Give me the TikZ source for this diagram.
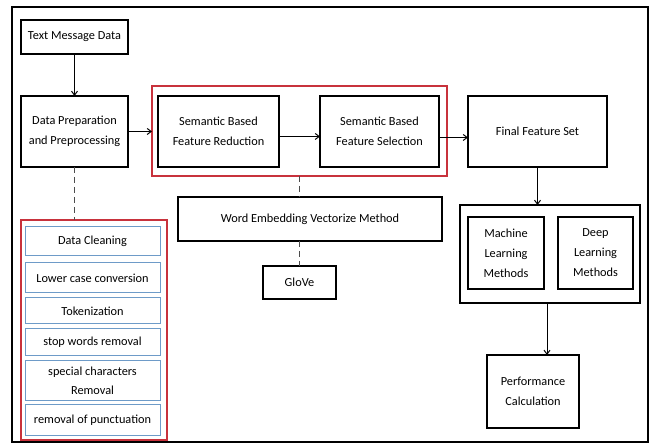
\documentclass[tikz,border=0pt]{standalone}
\usepackage{fontspec}
\setmainfont{Carlito}
\usetikzlibrary{arrows.meta}
\definecolor{myred}{RGB}{200,50,60}
\definecolor{myblue}{RGB}{110,155,200}
\tikzset{
  box/.style={draw=black, line width=1.3pt, inner sep=0pt, outer sep=0pt, align=center,
    font=\fontsize{12.3}{20}\selectfont},
  redbox/.style={draw=myred, line width=1.3pt, inner sep=0pt, outer sep=0pt},
  bluebox/.style={draw=myblue, line width=1pt, inner sep=0pt, outer sep=0pt, align=center,
    font=\fontsize{12.3}{19}\selectfont},
  arr/.style={-{Straight Barb[length=4pt,width=6pt]}, line width=1pt},
  dashline/.style={line width=1.3pt, dash pattern=on 6pt off 4pt, draw=black!70},
}
\begin{document}
\begin{tikzpicture}[x=1pt,y=-1pt]
\useasboundingbox (0,0) rectangle (651,443);
\draw[line width=1.5pt] (12,7) rectangle (648,442);
% left column
\node[box, minimum width=107pt, minimum height=34pt] (tmd) at (74.5,37) {Text Message Data};
\node[box, minimum width=107pt, minimum height=71pt] (dpp) at (74.5,131.5) {Data Preparation\\and Preprocessing};
% red group
\node[redbox, minimum width=295pt, minimum height=90pt] (red1) at (299.5,131) {};
\node[box, minimum width=121pt, minimum height=71pt] (sr) at (218.5,131.5) {Semantic Based\\Feature Reduction};
\node[box, minimum width=119pt, minimum height=71pt] (ss) at (379.5,131.5) {Semantic Based\\Feature Selection};
\node[box, minimum width=139pt, minimum height=71pt] (ffs) at (537.5,131.5) {Final Feature Set};
% methods
\node[box, minimum width=180pt, minimum height=98pt] (meth) at (550,254) {};
\node[box, minimum width=76pt, minimum height=72pt] (ml) at (506,253) {Machine\\Learning\\Methods};
\node[box, minimum width=75pt, minimum height=72pt] (dl) at (595.5,253) {Deep\\Learning\\Methods};
\node[box, minimum width=92pt, minimum height=73pt] (perf) at (533,391.5) {Performance\\Calculation};
% embedding
\node[box, minimum width=264pt, minimum height=44pt] (we) at (310,219) {Word Embedding Vectorize Method};
\node[box, minimum width=73pt, minimum height=33pt] (glove) at (299.5,282.5) {GloVe};
% preprocessing list
\node[redbox, minimum width=146pt, minimum height=220pt] (rl) at (94,330) {};
\node[bluebox, minimum width=135pt, minimum height=29pt] (dc) at (92.5,241.5) {Data Cleaning};
\node[bluebox, minimum width=135pt, minimum height=30pt] (lc) at (92.5,278) {Lower case conversion};
\node[bluebox, minimum width=135pt, minimum height=26pt] (tok) at (92.5,311) {Tokenization};
\node[bluebox, minimum width=135pt, minimum height=27pt] (sw) at (92.5,342.5) {stop words removal};
\node[bluebox, minimum width=135pt, minimum height=40pt] (sc) at (92.5,381) {special characters\\Removal};
\node[bluebox, minimum width=135pt, minimum height=31pt] (rp) at (92.5,420.5) {removal of punctuation};
% arrows
\draw[arr] (tmd.south) -- (dpp.north);
\draw[arr] (dpp.east) -- (red1.west |- dpp.east);
\draw[arr] ([yshift=-5pt]sr.east) -- ([yshift=-5pt]ss.west);
\draw[arr] ([yshift=-6pt]ss.east) -- ([yshift=-6pt]ffs.west);
\draw[arr] (ffs.south) -- (ffs.south |- meth.north);
\draw[arr] ([xshift=-3pt]meth.south) -- ([xshift=-3pt]meth.south |- perf.north);
% dashed
\draw[dashline] (dpp.south) -- (dpp.south |- rl.north);
\draw[dashline] (red1.south) -- (red1.south |- we.north);
\draw[dashline] (glove.north |- we.south) -- (glove.north);
\end{tikzpicture}
\end{document}
